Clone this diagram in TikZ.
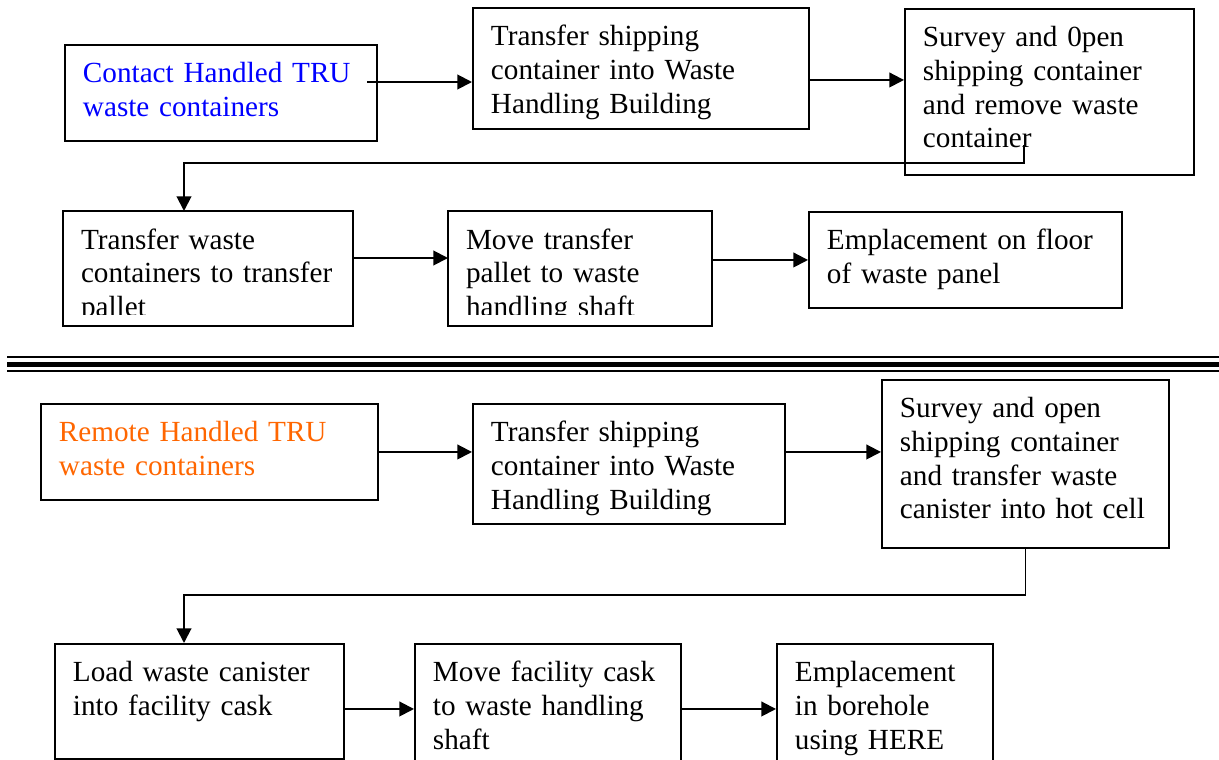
\documentclass[tikz,border=0pt]{standalone}
\usepackage{fontspec}
\setmainfont{Liberation Serif}
\usetikzlibrary{arrows.meta}
\definecolor{chblue}{HTML}{0000FF}
\definecolor{rhorange}{HTML}{FF6600}
\newlength{\px}
\setlength{\px}{0.411pt}

\begin{document}
\begin{tikzpicture}[
  x=\px, y=-\px,
  every node/.style={font=\fontsize{12}{13.8}\selectfont},
  stagebox/.style 2 args={draw, line width=0.8pt, anchor=north west, align=left,
    inner xsep=18\px, inner ysep=0pt, text height=38\px,
    /utils/exec={\pgfmathsetlengthmacro\stagetw{(#1-36)*\px}\pgfmathsetlengthmacro\stagetd{(#2-38)*\px}},
    text width=\stagetw, text depth=\stagetd},
  cutbox/.style={draw=none, outer sep=0pt},
  flow/.style={-{Triangle[length=6pt,width=6pt]}, line width=0.8pt}
]
\useasboundingbox (0,0) rectangle (1219,759);
\clip (0,0) rectangle (1219,759);

% contact handled
\node[stagebox={312}{96}, text=chblue] (ch) at (64,44) {Contact Handled TRU\\waste containers};
\node[stagebox={336}{121}] (chship) at (472,7) {Transfer shipping\\container into Waste\\Handling Building};
\node[stagebox={289}{166}] (chopen) at (904,8) {Survey and 0pen\\shipping container\\and remove waste\\container};
\begin{scope}
  \clip (63,211) rectangle (712,314);
  \node[stagebox={290}{115}, cutbox] (chpallet) at (63,211) {Transfer waste\\containers to transfer\\pallet};
  \node[stagebox={264}{115}, cutbox] (chshaft) at (448,211) {Move transfer\\pallet to waste\\handling shaft};
\end{scope}
\draw[line width=0.8pt] (chpallet.north west) rectangle (chpallet.south east)
  (chshaft.north west) rectangle (chshaft.south east);
\node[stagebox={313}{96}] (chfloor) at (808,211) {Emplacement on floor\\of waste panel};

\coordinate (chout) at (367,82);
\coordinate (chturn) at (1024,145);
\coordinate (chbend) at (184,163);
\draw[flow] (chout) -- (chout -| chship.west);
\draw[flow] ([yshift=-11.5\px]chship.east) -- ([yshift=12\px]chopen.west);
\draw[flow] (chturn) |- (chbend) -- (chbend |- chpallet.north);
\draw[flow] ([yshift=10.5\px]chpallet.east) -- ([yshift=10.5\px]chshaft.west);
\draw[flow] (chshaft.east |- chfloor.west) -- (chfloor.west);

% separator
\foreach \yy/\lw in {357/0.7pt, 364.3/2pt, 371.3/0.7pt}
  \draw[line width=\lw] (7,\yy) -- (1219,\yy);

% remote handled
\node[stagebox={337}{96}, text=rhorange] (rh) at (40,403) {Remote Handled TRU\\waste containers};
\node[stagebox={312}{120}] (rhship) at (472,403) {Transfer shipping\\container into Waste\\Handling Building};
\node[stagebox={287}{168}] (rhopen) at (881,379) {Survey and open\\shipping container\\and transfer waste\\canister into hot cell};
\node[stagebox={289}{115}] (rhcask) at (54,643) {Load waste canister\\into facility cask};
\node[stagebox={266}{130}] (rhshaft) at (414,643) {Move facility cask\\to waste handling\\shaft};
\node[stagebox={216}{130}] (rhhere) at (776,643) {Emplacement\\in borehole\\using HERE};

\coordinate (rhbend) at (184,595);
\draw[flow] (rh.east) -- (rh.east -| rhship.west);
\draw[flow] (rhship.east |- rh.east) -- (rhopen.west |- rh.east);
\draw[flow] (rhopen.south) |- (rhbend) -- (rhbend |- rhcask.north);
\draw[flow] (rhcask.east |- rhshaft.west) -- (rhshaft.west);
\draw[flow] (rhshaft.east) -- (rhhere.west);
\end{tikzpicture}
\end{document}
